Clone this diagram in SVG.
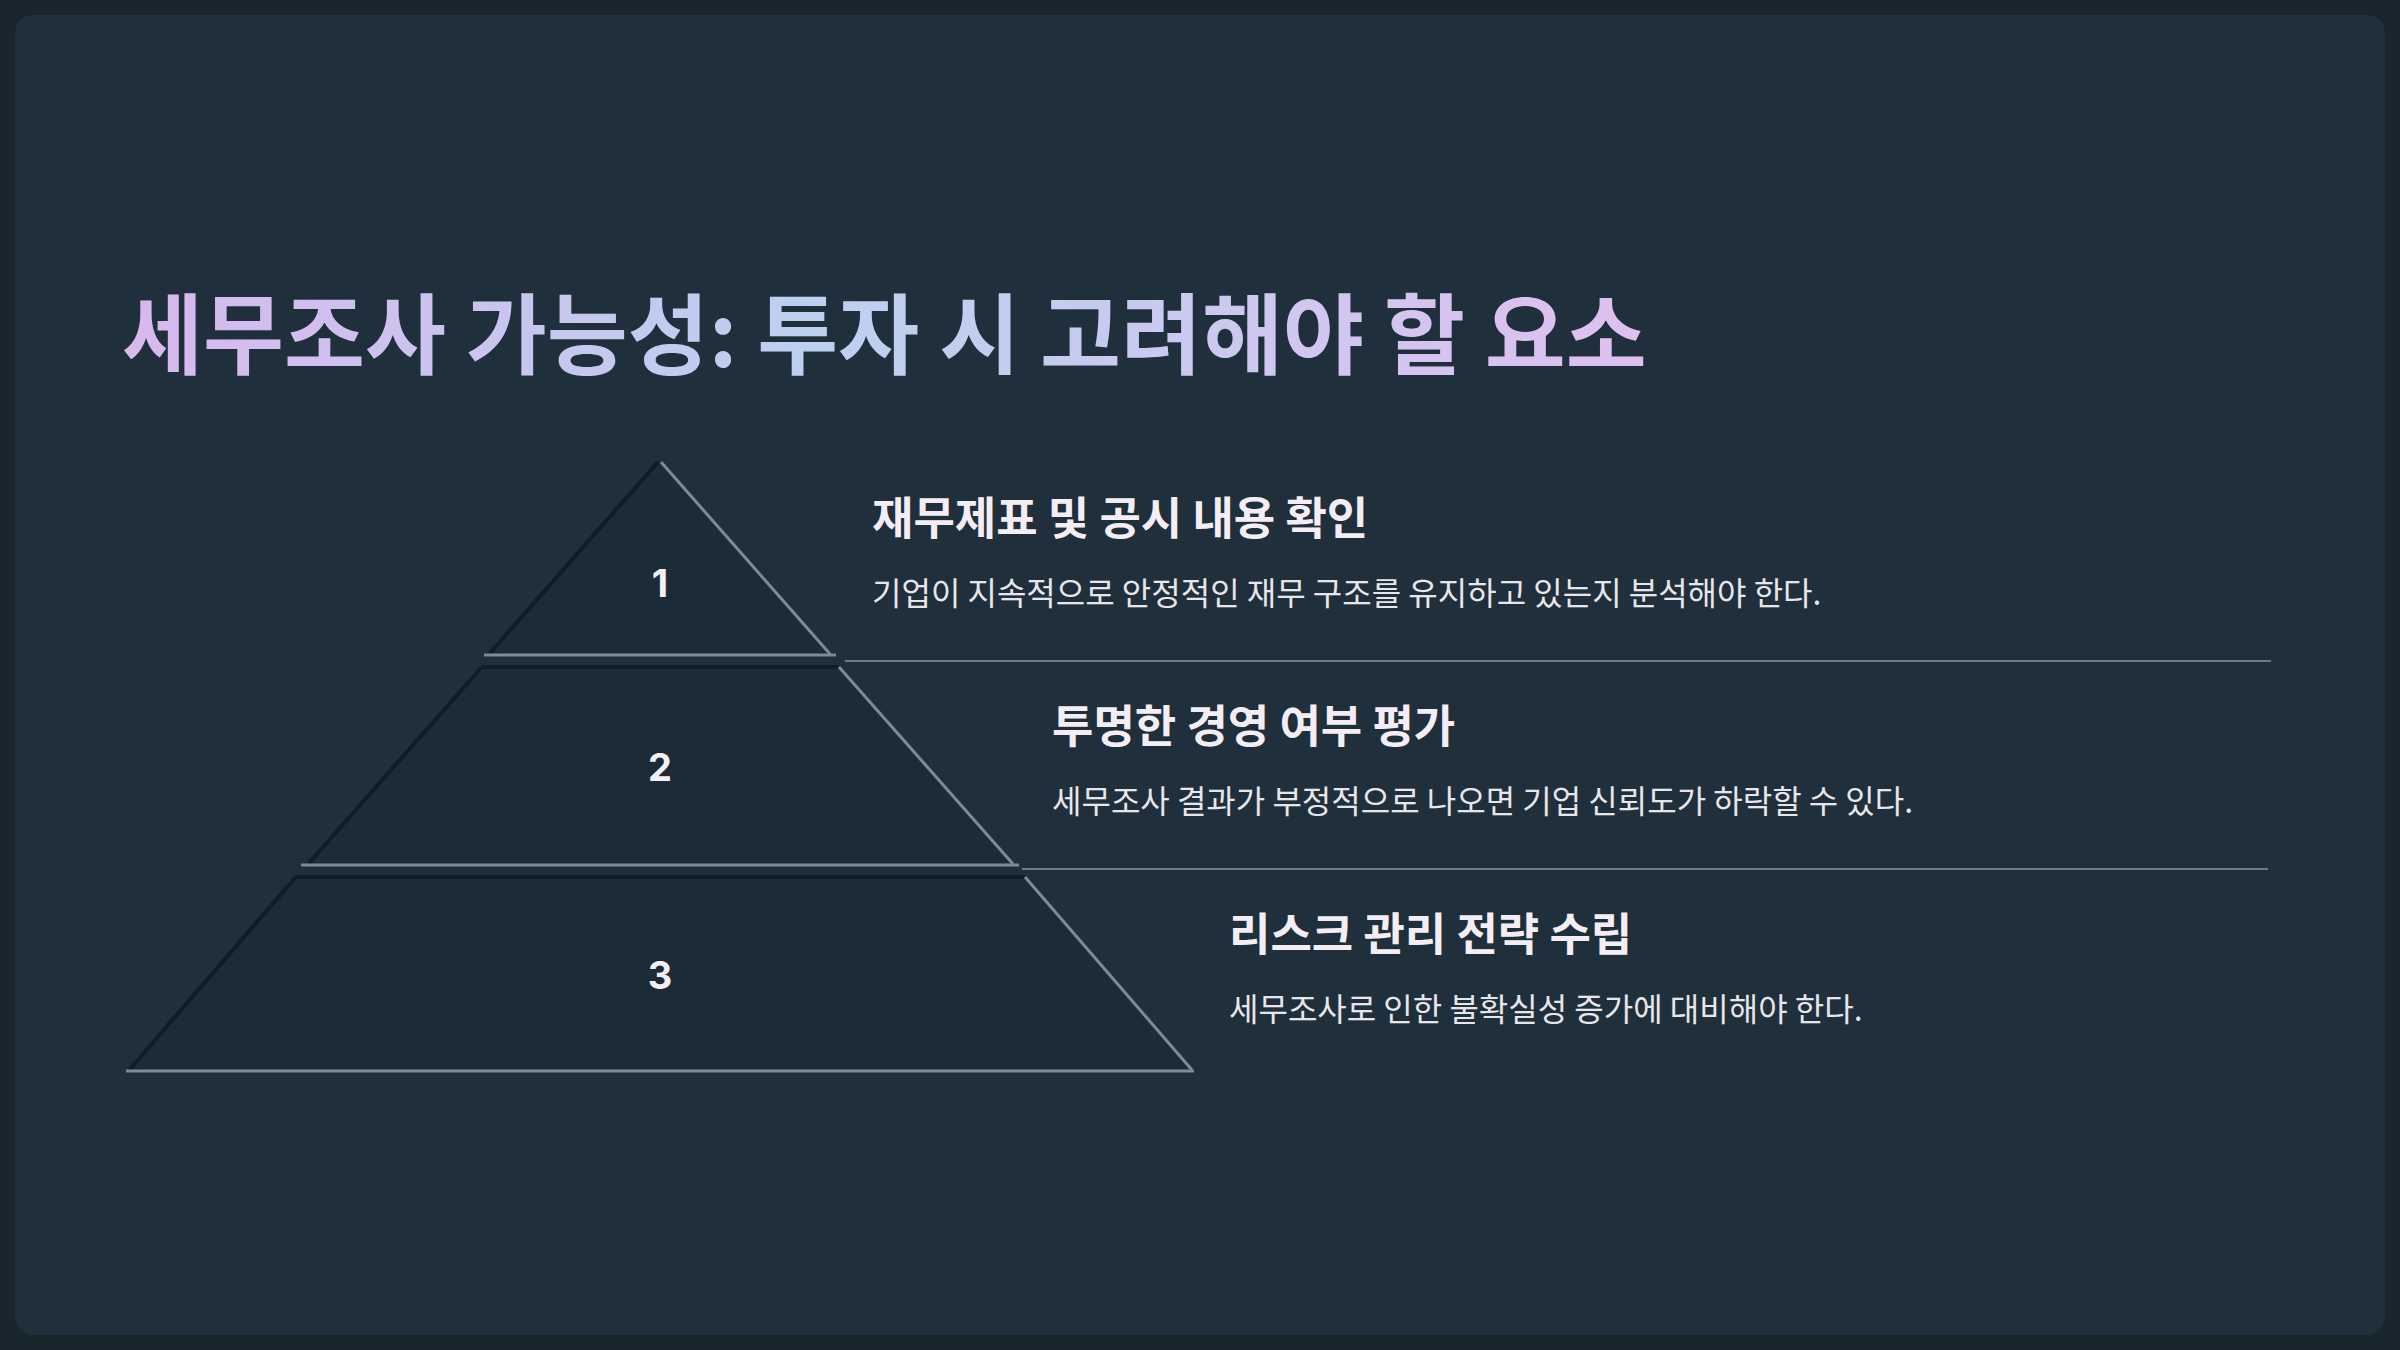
<svg xmlns="http://www.w3.org/2000/svg" width="2400" height="1350" viewBox="0 0 2400 1350">
<defs>
<linearGradient id="tg" x1="122" y1="0" x2="1670" y2="0" gradientUnits="userSpaceOnUse">
<stop offset="0" stop-color="#d9b8ee"/><stop offset="0.45" stop-color="#bcd0f0"/><stop offset="1" stop-color="#e0bff0"/>
</linearGradient>
<style>
.t{font-family:"Noto Sans CJK KR","Noto Sans",sans-serif;}
.h{font-size:45px;font-weight:700;fill:#f4eef4;}
.d{font-size:32px;fill:#e8e6ea;}
.n{font-family:Inter,"Noto Sans",sans-serif;font-size:38px;font-weight:700;fill:#f4f0f4;text-anchor:middle;}
.tier{fill:#1c2b38;}
.hl{stroke:#7a8c98;stroke-width:3;fill:none;}
.sh{stroke:#111c24;stroke-width:4;fill:none;}
.sep{stroke:#6d7b85;stroke-width:2;}
</style>
</defs>
<rect width="2400" height="1350" fill="#19252d"/>
<rect x="15" y="15" width="2370" height="1320" rx="18" fill="#1f2f3b"/>
<text class="t" x="122" y="367" font-size="88" font-weight="700" fill="url(#tg)">세무조사 가능성: 투자 시 고려해야 할 요소</text>
<g id="tier1">
<polygon class="tier" points="660,460 830,655 490,655"/>
<line class="sh" x1="658" y1="462" x2="490" y2="653"/>
<line class="hl" x1="661" y1="462" x2="830" y2="654"/>
<line class="hl" x1="484" y1="655" x2="836" y2="655"/>
<text class="n" x="660" y="597">1</text>
</g>
<g id="tier2">
<polygon class="tier" points="481,666 839,666 1013,865 307,865"/>
<line class="sh" x1="481" y1="667" x2="839" y2="667"/>
<line class="sh" x1="481" y1="668" x2="309" y2="863"/>
<line class="hl" x1="839" y1="667" x2="1013" y2="864"/>
<line class="hl" x1="301" y1="865" x2="1019" y2="865"/>
<text class="n" x="660" y="781">2</text>
</g>
<g id="tier3">
<polygon class="tier" points="295,876 1025,876 1192,1071 128,1071"/>
<line class="sh" x1="295" y1="877" x2="1025" y2="877"/>
<line class="sh" x1="295" y1="878" x2="130" y2="1069"/>
<line class="hl" x1="1025" y1="877" x2="1192" y2="1070"/>
<line class="hl" x1="126" y1="1071" x2="1194" y2="1071"/>
<text class="n" x="660" y="989">3</text>
</g>
<g id="connectors">
<line class="sep" x1="845" y1="661" x2="2271" y2="661"/>
<line class="sep" x1="1022" y1="869" x2="2268" y2="869"/>
</g>
<g id="item1">
<text class="t h" x="872" y="535">재무제표 및 공시 내용 확인</text>
<text class="t d" x="872" y="605">기업이 지속적으로 안정적인 재무 구조를 유지하고 있는지 분석해야 한다.</text>
</g>
<g id="item2">
<text class="t h" x="1052" y="743">투명한 경영 여부 평가</text>
<text class="t d" x="1052" y="813">세무조사 결과가 부정적으로 나오면 기업 신뢰도가 하락할 수 있다.</text>
</g>
<g id="item3">
<text class="t h" x="1229" y="951">리스크 관리 전략 수립</text>
<text class="t d" x="1229" y="1021">세무조사로 인한 불확실성 증가에 대비해야 한다.</text>
</g>
</svg>
